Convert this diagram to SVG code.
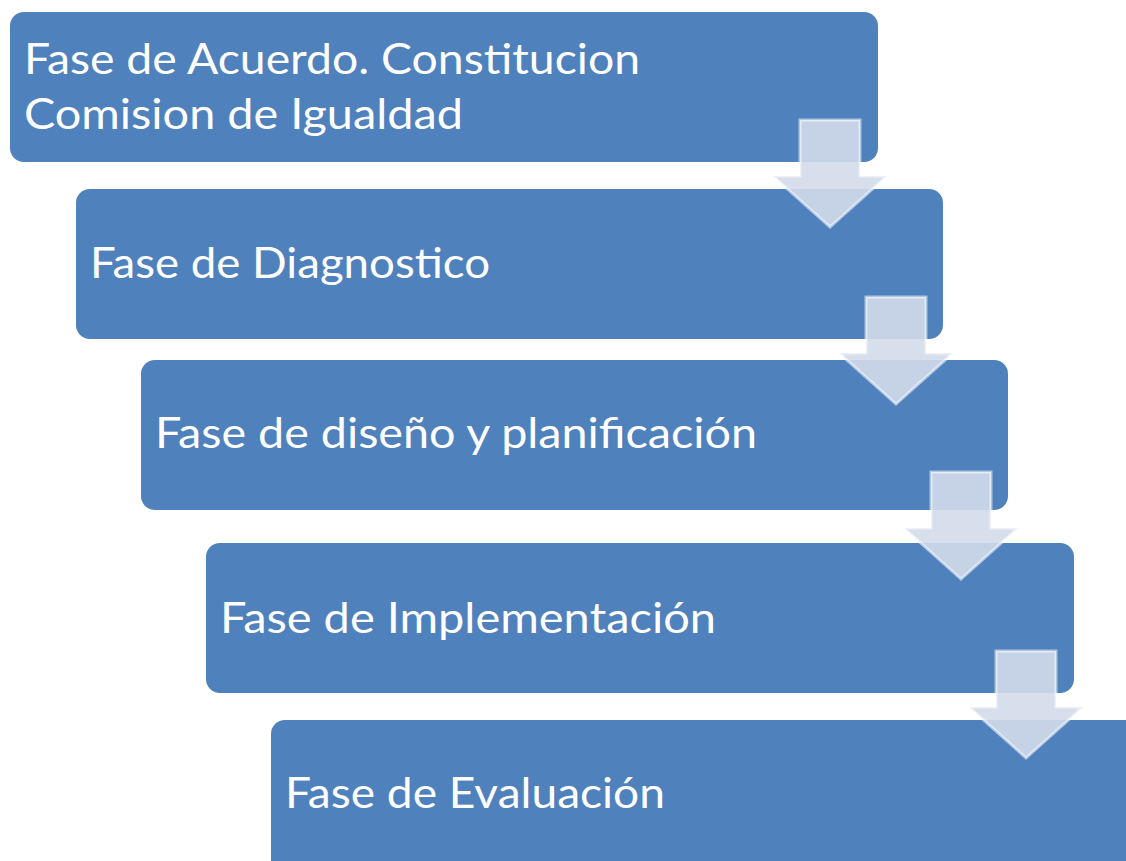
<svg xmlns="http://www.w3.org/2000/svg" xmlns:xlink="http://www.w3.org/1999/xlink" width="1126" height="861" viewBox="0 0 1126 861">
<style>
.box{fill:#4F81BD}
.lbl{font-family:Lato,"Open Sans","Liberation Sans",sans-serif;font-size:42px;fill:#FFFFFF}
.arr{fill:#D3DAEA;fill-opacity:0.9;stroke:#FFFFFF;stroke-opacity:0.55;stroke-width:3;stroke-linejoin:miter}
</style>
<defs>
<path id="arrow" d="M-30,0 H30 V56 H57 L0,107 L-57,56 H-30 Z"/>
</defs>
<rect width="1126" height="861" fill="#FFFFFF"/>
<g id="node1">
<rect class="box" x="10" y="12" width="868" height="150" rx="14"/>
<text class="lbl" x="24" y="74" textLength="616" lengthAdjust="spacingAndGlyphs">Fase de Acuerdo. Constitucion</text>
<text class="lbl" x="24" y="129" textLength="439" lengthAdjust="spacingAndGlyphs">Comision de Igualdad</text>
</g>
<g id="node2">
<rect class="box" x="76" y="189" width="867" height="150" rx="14"/>
<text class="lbl" x="90" y="278" textLength="400" lengthAdjust="spacingAndGlyphs">Fase de Diagnostico</text>
</g>
<g id="node3">
<rect class="box" x="141" y="360" width="867" height="150" rx="14"/>
<text class="lbl" x="155" y="448" textLength="602" lengthAdjust="spacingAndGlyphs">Fase de diseño y planificación</text>
</g>
<g id="node4">
<rect class="box" x="206" y="543" width="868" height="150" rx="14"/>
<text class="lbl" x="220" y="633" textLength="496" lengthAdjust="spacingAndGlyphs">Fase de Implementación</text>
</g>
<g id="node5">
<rect class="box" x="271" y="720" width="870" height="160" rx="14"/>
<text class="lbl" x="285" y="808" textLength="380" lengthAdjust="spacingAndGlyphs">Fase de Evaluación</text>
</g>
<g id="connectors">
<use xlink:href="#arrow" href="#arrow" class="arr" transform="translate(830,120)"/>
<use xlink:href="#arrow" href="#arrow" class="arr" transform="translate(896,297)"/>
<use xlink:href="#arrow" href="#arrow" class="arr" transform="translate(961,472)"/>
<use xlink:href="#arrow" href="#arrow" class="arr" transform="translate(1026,651)"/>
</g>
</svg>
